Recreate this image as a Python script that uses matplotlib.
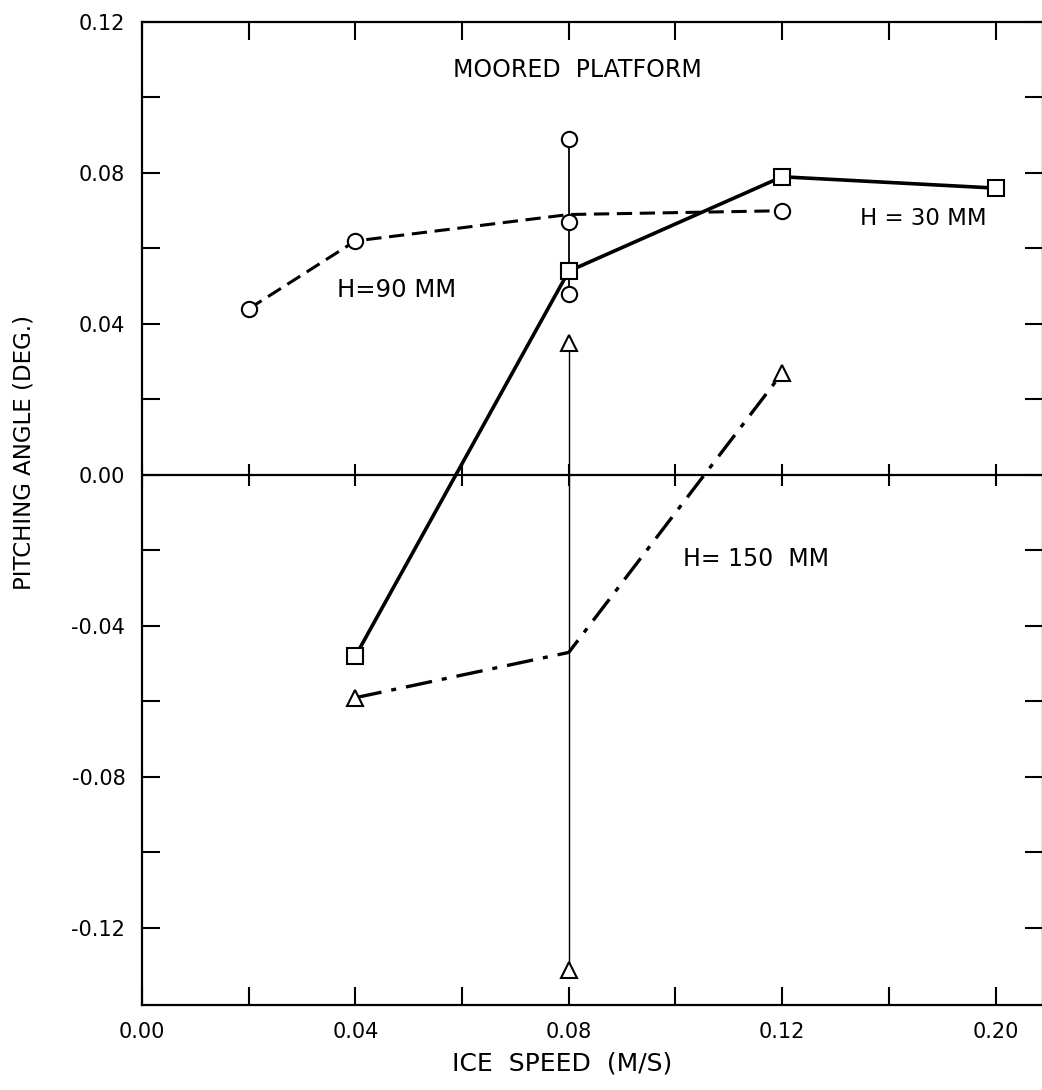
import matplotlib
matplotlib.use('Agg')
import matplotlib.pyplot as plt
import numpy as np

# ice speed (m/s) and pitching angle (deg.)
speed_30 = [0.04, 0.08, 0.12, 0.20]
pitch_30 = [-0.048, 0.054, 0.079, 0.076]

speed_90 = [0.02, 0.04, 0.08, 0.12]
pitch_90 = [0.044, 0.062, 0.069, 0.070]
scatter_90_x = [0.08, 0.08, 0.08]
scatter_90_y = [0.089, 0.067, 0.048]
marker_90_x = [0.02, 0.04, 0.12]
marker_90_y = [0.044, 0.062, 0.070]

speed_150 = [0.04, 0.08, 0.12]
pitch_150 = [-0.059, -0.047, 0.027]
marker_150_x = [0.04, 0.12]
marker_150_y = [-0.059, 0.027]
scatter_150_x = [0.08, 0.08]
scatter_150_y = [0.035, -0.131]

xticks = [0.00, 0.04, 0.08, 0.12, 0.20]
xminor = [0.02, 0.06, 0.10, 0.16]
yticks = [-0.12, -0.08, -0.04, 0.00, 0.04, 0.08, 0.12]
yminor = [-0.10, -0.06, -0.02, 0.02, 0.06, 0.10]

# axis is broken beyond 0.12: one tick spacing covers 0.04 (then 0.08)
def fwd(x):
    x = np.asarray(x, dtype=float)
    return np.where(x <= 0.12, x, 0.12 + (x - 0.12) / 2)

def inv(u):
    u = np.asarray(u, dtype=float)
    return np.where(u <= 0.12, u, 0.12 + (u - 0.12) * 2)

plt.rcParams['font.family'] = 'DejaVu Sans'
fig = plt.figure(figsize=(10.42, 10.9), dpi=100)
ax = fig.add_axes([142/1042, 1 - 1005/1090, (1043 - 142)/1042, (1005 - 22)/1090])
ax.set_xscale('function', functions=(fwd, inv))

mk = dict(mfc='white', mec='black', mew=1.5, color='black')

# error bars at 0.08
ax.plot([scatter_90_x[0], scatter_90_x[-1]], [scatter_90_y[0], scatter_90_y[-1]], color='black', lw=1.3, zorder=2)
ax.plot(scatter_150_x, scatter_150_y, color='black', lw=1.0, zorder=2)

ax.plot(speed_90, pitch_90, ls=(0, (5, 2.5)), lw=2.2, color='black', zorder=3)
ax.plot(marker_90_x, marker_90_y, 'o', ms=11, zorder=4, **mk)
ax.plot(scatter_90_x, scatter_90_y, 'o', ms=11, zorder=4, **mk)

ax.plot(speed_30, pitch_30, '-s', lw=2.6, ms=12, zorder=5, **mk)

ax.plot(speed_150, pitch_150, ls=(0, (8, 3, 1.5, 3)), lw=2.4, color='black', zorder=3)
ax.plot(marker_150_x, marker_150_y, '^', ms=12, zorder=4, **mk)
ax.plot(scatter_150_x, scatter_150_y, '^', ms=12, zorder=4, **mk)

# zero line with crossing ticks
ax.axhline(0, color='black', lw=1.6, zorder=1)
ax.plot(xticks + xminor, [0] * 9, '|', color='black', ms=16, mew=1.5, zorder=1)

ax.set_xlim(0, 0.2178)
ax.set_ylim(-0.1404, 0.12)
ax.set_xticks(xticks)
ax.set_xticklabels(['0.00', '0.04', '0.08', '0.12', '0.20'])
ax.set_xticks(xminor, minor=True)
ax.set_yticks(yticks)
ax.set_yticklabels(['-0.12', '-0.08', '-0.04', '0.00', '0.04', '0.08', '0.12'])
ax.set_yticks(yminor, minor=True)
ax.tick_params(which='both', direction='in', top=True, right=True, length=13, width=1.5,
               labelsize=15, pad=12)

for s in ax.spines.values():
    s.set_linewidth(1.6)

ax.text(0.4828, 0.9512, 'MOORED  PLATFORM', fontsize=17, ha='center', va='center', transform=ax.transAxes)
ax.text(0.2164, 0.7274, 'H=90 MM', fontsize=17.5, ha='left', va='center', transform=ax.transAxes)
ax.text(0.797, 0.8006, 'H = 30 MM', fontsize=16.5, ha='left', va='center', transform=ax.transAxes)
ax.text(0.6004, 0.4537, 'H= 150  MM', fontsize=17, ha='left', va='center', transform=ax.transAxes)

fig.text(562/1042, 1 - 1064/1090, 'ICE  SPEED  (M/S)', fontsize=18, ha='center', va='center')
fig.text(24/1042, 1 - 452/1090, 'PITCHING ANGLE (DEG.)', fontsize=16.5, ha='center', va='center',
         rotation=90)

fig.savefig('out.png', dpi=100)
